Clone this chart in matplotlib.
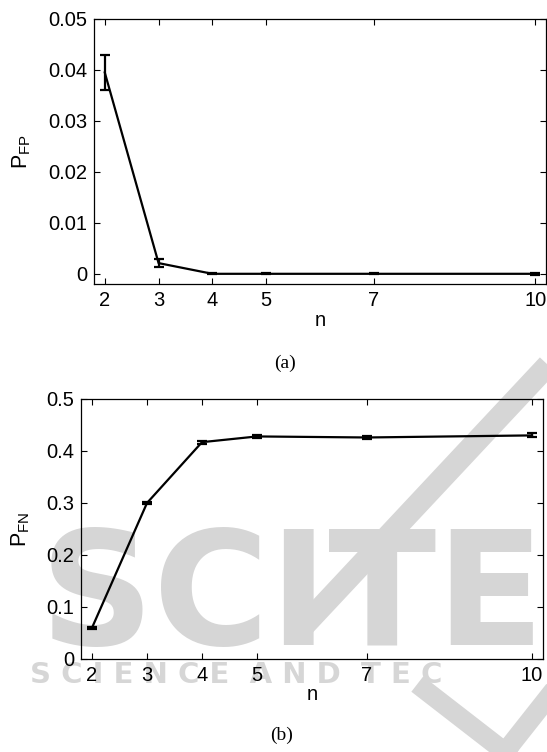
import matplotlib.pyplot as plt
from matplotlib.lines import Line2D


n_vals = [2, 3, 4, 5, 7, 10]

p_fp = [0.0395, 0.0021, 0.0, 0.0, 0.0, 0.0]
p_fp_err = [0.0035, 0.0008, 0.0001, 0.0001, 0.0001, 0.0002]

p_fn = [0.060, 0.300, 0.417, 0.428, 0.426, 0.430]
p_fn_err = [0.002, 0.002, 0.003, 0.003, 0.003, 0.004]

fp_ticks = [0, 0.01, 0.02, 0.03, 0.04, 0.05]
fp_tick_labels = ['0', '0.01', '0.02', '0.03', '0.04', '0.05']
fn_ticks = [0, 0.1, 0.2, 0.3, 0.4, 0.5]
fn_tick_labels = ['0', '0.1', '0.2', '0.3', '0.4', '0.5']

plt.rcParams['font.family'] = ['Liberation Sans', 'DejaVu Sans']
plt.rcParams['mathtext.fontset'] = 'custom'
plt.rcParams['mathtext.rm'] = 'Liberation Sans'
plt.rcParams['mathtext.it'] = 'Liberation Sans'

W, H = 547, 752
fig = plt.figure(figsize=(W/100, H/100), dpi=100)

# faint publisher watermark behind the plots
wm = '#d6d6d6'
fig.text(40/W, 1 - 645/H, 'SCITE', fontsize=114, fontweight='bold', color=wm,
         family='DejaVu Sans', ha='left', va='baseline', zorder=-5)
fig.text(30/W, 1 - 683/H, 'S C I E N C E  A N D  T E C', fontsize=21,
         fontweight='bold', color=wm, family='DejaVu Sans', ha='left', va='baseline', zorder=-5)
fig.add_artist(Line2D([548/W, 300/W], [1 - 365/H, 1 - 630/H], color=wm, lw=16,
                      solid_capstyle='butt', transform=fig.transFigure, zorder=-5))
fig.add_artist(Line2D([425/W, 505/W], [1 - 690/H, 1 - 752/H], color=wm, lw=14,
                      transform=fig.transFigure, zorder=-5))
fig.add_artist(Line2D([550/W, 505/W], [1 - 695/H, 1 - 752/H], color=wm, lw=14,
                      transform=fig.transFigure, zorder=-5))

ax1 = fig.add_axes([94/W, 1 - 284/H, 452/W, 265/H])
ax2 = fig.add_axes([81/W, 1 - 659/H, 462/W, 260/H])

for ax, y, err, ticks, labels, lab, ylim, ylc in [
        (ax1, p_fp, p_fp_err, fp_ticks, fp_tick_labels, r'$\mathrm{P}_{\mathrm{FP}}$', (-0.002, 0.05), -0.135),
        (ax2, p_fn, p_fn_err, fn_ticks, fn_tick_labels, r'$\mathrm{P}_{\mathrm{FN}}$', (0, 0.5), -0.105)]:
    ax.set_facecolor('none')
    ax.errorbar(n_vals, y, yerr=err, color='black', lw=1.6, capsize=3.5, capthick=1.6)
    ax.set_xlim(1.8, 10.2)
    ax.set_ylim(*ylim)
    ax.set_xticks(n_vals)
    ax.set_yticks(ticks)
    ax.set_yticklabels(labels)
    ax.tick_params(direction='in', top=True, right=True, length=4, width=0.8,
                   labelsize=14.5, pad=5)
    for s in ax.spines.values():
        s.set_linewidth(0.9)
    ax.set_xlabel('n', fontsize=14.5)
    ax.xaxis.set_label_coords(0.5, -0.1)
    ax.set_ylabel(lab, fontsize=15.5)
    ax.yaxis.set_label_coords(ylc, 0.5)

fig.text(285/W, 1 - 363/H, '(a)', family='Liberation Serif', fontsize=14, ha='center', va='center')
fig.text(282/W, 1 - 735/H, '(b)', family='Liberation Serif', fontsize=14, ha='center', va='center')

plt.savefig('out.png', dpi=100)
